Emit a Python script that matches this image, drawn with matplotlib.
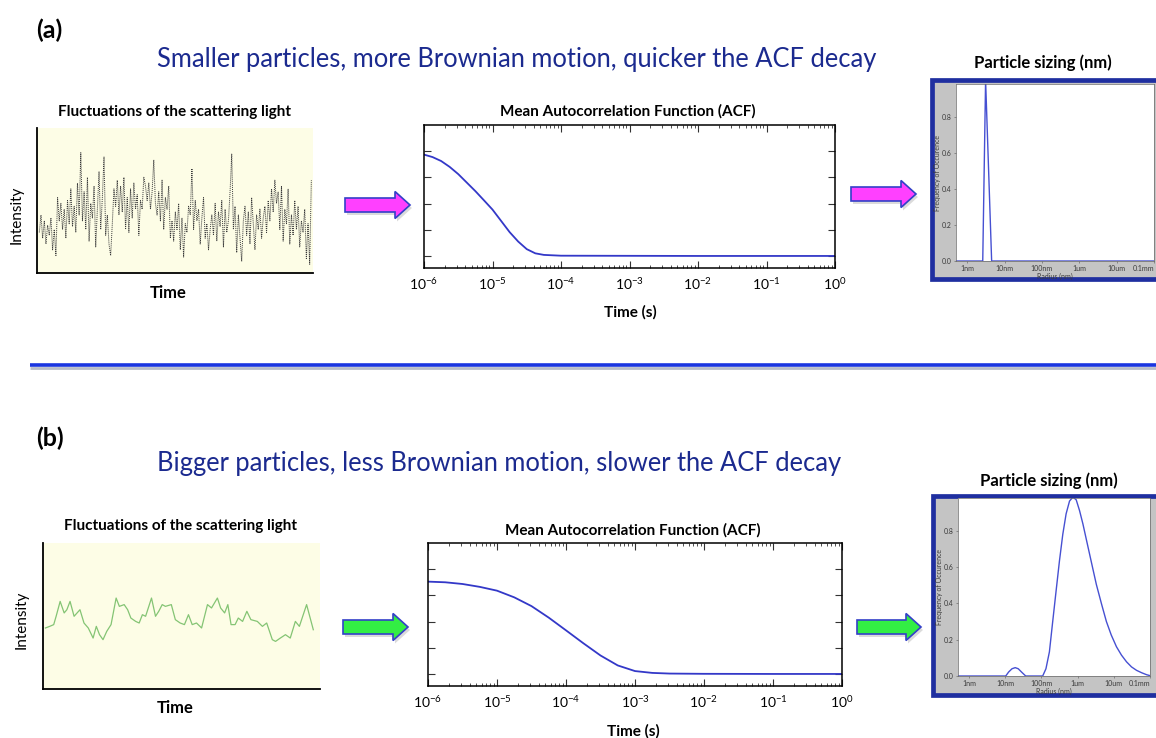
import numpy as np
import matplotlib.pyplot as plt
from matplotlib.patches import FancyArrow, Rectangle
from matplotlib.ticker import LogLocator, NullFormatter

plt.rcParams['font.family'] = ['Lato', 'DejaVu Sans']
plt.rcParams['mathtext.fontset'] = 'custom'
plt.rcParams['mathtext.rm'] = 'Lato'
plt.rcParams['mathtext.it'] = 'Lato:italic'
plt.rcParams['mathtext.bf'] = 'Lato:bold'

# --- data ---
# (a) fast fluctuating intensity, small particles
noise_a = [
    0.28, 0.40, 0.24, 0.36, 0.20, 0.33, 0.26, 0.38, 0.16, 0.30,
    0.12, 0.52, 0.36, 0.48, 0.30, 0.44, 0.24, 0.50, 0.34, 0.58,
    0.32, 0.46, 0.28, 0.62, 0.40, 0.83, 0.36, 0.56, 0.30, 0.66,
    0.22, 0.48, 0.38, 0.60, 0.18, 0.44, 0.70, 0.30, 0.52, 0.80,
    0.26, 0.40, 0.20, 0.12, 0.34, 0.58, 0.46, 0.64, 0.40, 0.60,
    0.42, 0.66, 0.30, 0.52, 0.28, 0.58, 0.38, 0.62, 0.44, 0.54,
    0.26, 0.50, 0.44, 0.66, 0.60, 0.50, 0.62, 0.44, 0.56, 0.78,
    0.48, 0.40, 0.56, 0.36, 0.64, 0.30, 0.52, 0.44, 0.60, 0.24,
    0.36, 0.22, 0.42, 0.30, 0.48, 0.16, 0.38, 0.11, 0.34, 0.28,
    0.46, 0.40, 0.72, 0.30, 0.50, 0.36, 0.44, 0.20, 0.38, 0.52,
    0.24, 0.34, 0.16, 0.30, 0.40, 0.26, 0.48, 0.22, 0.42, 0.32,
    0.50, 0.18, 0.44, 0.28, 0.36, 0.56, 0.82, 0.30, 0.46, 0.14,
    0.40, 0.24, 0.08, 0.36, 0.46, 0.26, 0.42, 0.20, 0.52, 0.34,
    0.16, 0.40, 0.30, 0.44, 0.24, 0.38, 0.46, 0.28, 0.50, 0.36,
    0.58, 0.42, 0.64, 0.48, 0.56, 0.30, 0.60, 0.22, 0.44, 0.34,
    0.58, 0.20, 0.40, 0.26, 0.50, 0.30, 0.46, 0.18, 0.36, 0.28,
    0.44, 0.10, 0.34, 0.06, 0.64,
]

# (b) slow fluctuating intensity, big particles
green_t = [0, 1.6, 3.1, 4.0, 5.5, 7.0, 8.0, 9.2, 10.7, 12.9, 14.4, 16.0, 17.8,
           19.0, 20.2, 21.5, 22.9, 24.5, 26.4, 27.6, 29.4, 30.7, 31.9, 33.7,
           35.0, 36.2, 37.4, 39.6, 41.1, 42.3, 43.6, 44.8, 47.0, 48.5, 50.3,
           51.9, 53.4, 54.8, 56.4, 58.3, 60.5, 62.0, 64.2, 65.4, 66.9, 68.1,
           69.3, 70.8, 72.0, 73.6, 75.2, 76.7, 79.1, 81.0, 82.6, 84.7, 85.9,
           87.7, 89.6, 91.4, 93.3, 94.8, 97.5, 100]
green_v = [0.418, 0.429, 0.441, 0.498, 0.600, 0.521, 0.543, 0.600, 0.498, 0.543,
           0.452, 0.418, 0.349, 0.429, 0.372, 0.338, 0.395, 0.441, 0.623, 0.566,
           0.578, 0.543, 0.486, 0.463, 0.452, 0.509, 0.498, 0.623, 0.498, 0.532,
           0.578, 0.566, 0.578, 0.475, 0.452, 0.441, 0.509, 0.441, 0.452, 0.418,
           0.578, 0.555, 0.623, 0.555, 0.521, 0.578, 0.441, 0.441, 0.486, 0.463,
           0.532, 0.475, 0.463, 0.429, 0.452, 0.338, 0.326, 0.349, 0.372, 0.349,
           0.463, 0.429, 0.578, 0.406]

# autocorrelation functions (log10 of time in s, value)
acf_a_logt = [-6.0, -5.875, -5.75, -5.625, -5.5, -5.375, -5.25, -5.125, -5.0,
              -4.875, -4.75, -4.625, -4.5, -4.375, -4.25, -4.0, -3.0, -2.0, 0.0]
acf_a_val = [0.774, 0.755, 0.725, 0.68, 0.625, 0.56, 0.495, 0.425, 0.354,
             0.268, 0.182, 0.110, 0.052, 0.020, 0.008, 0.002, 0.001, 0.0, 0.0]
acf_b_logt = [-6.0, -5.75, -5.5, -5.25, -5.0, -4.75, -4.5, -4.25, -4.0,
              -3.75, -3.5, -3.25, -3.0, -2.75, -2.5, -2.0, -1.0, 0.0]
acf_b_val = [0.705, 0.700, 0.687, 0.665, 0.636, 0.585, 0.518, 0.43, 0.333,
             0.235, 0.141, 0.065, 0.022, 0.008, 0.003, 0.001, 0.0, 0.0]

# particle size distributions (radius in nm, frequency)
size_a_r = [0.5, 2.6, 3.1, 4.5, 1e5]
size_a_f = [0.0, 0.0, 1.0, 0.0, 0.0]
size_b_r = [0.5, 10.4, 12.5, 15.5, 19, 23, 29, 37, 109, 134, 167, 206, 255, 316,
            391, 483, 600, 744, 918, 1137, 1406, 1737, 2154, 2665, 3302, 4640,
            6250, 8500, 11860, 16300, 22490, 30900, 42660, 58700, 80700, 1e5]
size_b_f = [0.0, 0.0, 0.022, 0.040, 0.046, 0.040, 0.020, 0.0, 0.0, 0.04, 0.133,
            0.30, 0.467, 0.633, 0.78, 0.893, 0.963, 0.985, 0.97, 0.91, 0.837,
            0.754, 0.67, 0.587, 0.504, 0.393, 0.30, 0.226, 0.161, 0.115, 0.078,
            0.05, 0.031, 0.018, 0.007, 0.002]

size_ticks = [1, 10, 100, 1e3, 1e4, 1e5]
size_labels = ['1nm', '10nm', '100nm', '1um', '10um', '0.1mm']

W, H = 1156, 738
fig = plt.figure(figsize=(W / 100, H / 100), dpi=100)


def box(l, t, r, b):
    return [l / W, 1 - b / H, (r - l) / W, (b - t) / H]


# overlay in pixel coordinates for texts and decorations
ov = fig.add_axes([0, 0, 1, 1], zorder=-1)
ov.set_xlim(0, W)
ov.set_ylim(H, 0)
ov.axis('off')

navy = '#1b2a8f'
ov.text(36, 30, '(a)', fontsize=18, fontweight='bold', va='center')
ov.text(157, 60, 'Smaller particles, more Brownian motion, quicker the ACF decay',
        fontsize=18.4, color=navy, va='center')
ov.text(36, 438, '(b)', fontsize=18, fontweight='bold', va='center')
ov.text(157, 463, 'Bigger particles, less Brownian motion, slower the ACF decay',
        fontsize=18.4, color=navy, va='center')

# separator line
ov.plot([30, W], [367.5, 367.5], color='#b8bcc8', lw=2.0, solid_capstyle='butt')
ov.plot([30, W], [365, 365], color='#1a35e0', lw=2.6, solid_capstyle='butt')


def fluct(rect, x, y, color, ls, lw, xlim, tx, ty, lx, ly, bx, by):
    ax = fig.add_axes(box(*rect))
    ax.set_facecolor('#fdfde6')
    ax.plot(x, y, color=color, ls=ls, lw=lw)
    ax.set_xlim(*xlim)
    ax.set_ylim(0, 1)
    ax.set_xticks([])
    ax.set_yticks([])
    for s in ['top', 'right']:
        ax.spines[s].set_visible(False)
    for s in ['left', 'bottom']:
        ax.spines[s].set_linewidth(1.3)
    ov.text(tx, ty, 'Fluctuations of the scattering light', fontsize=11,
            fontweight='bold', ha='center', va='center')
    ov.text(lx, ly, 'Intensity', fontsize=11, rotation=90, ha='center', va='center')
    ov.text(bx, by, 'Time', fontsize=12, fontweight='bold', ha='center', va='center')


fluct((37, 128, 313, 273), np.arange(len(noise_a)), noise_a, '#3a3a3a',
      (0, (1, 1)), 0.7, (-1.4, 165), 175, 112, 17, 215, 168, 293)
fluct((43, 543, 320, 689), green_t, green_v, '#84c474', '-', 0.9,
      (-0.9, 102.5), 180, 526, 22, 620, 175, 708)


def acf(rect, logt, val, tx, ty, xx, xy):
    ax = fig.add_axes(box(*rect))
    ax.plot(10 ** np.array(logt), val, color='#3338c8', lw=1.3)
    ax.set_xscale('log')
    ax.set_xlim(1e-6, 1)
    ax.set_ylim(-0.092, 1.0)
    ax.set_yticks([0, 0.2, 0.4, 0.6, 0.8])
    ax.set_yticklabels([])
    ax.xaxis.set_major_locator(LogLocator(base=10, numticks=10))
    ax.xaxis.set_minor_locator(LogLocator(base=10, subs=np.arange(2, 10), numticks=20))
    ax.xaxis.set_minor_formatter(NullFormatter())
    ax.tick_params(which='both', direction='in', top=True, right=True,
                   labelsize=10, pad=6, color='#333333')
    ax.tick_params(which='major', length=5, width=0.8)
    ax.tick_params(which='minor', length=2.5, width=0.6)
    for s in ax.spines.values():
        s.set_linewidth(1.1)
    ov.text(tx, ty, 'Mean Autocorrelation Function (ACF)', fontsize=11,
            fontweight='bold', ha='center', va='center')
    ov.text(xx, xy, 'Time (s)', fontsize=11, fontweight='bold', ha='center', va='center')


acf((424, 125, 835, 268), acf_a_logt, acf_a_val, 628, 111, 630, 312)
acf((428, 543, 842, 686), acf_b_logt, acf_b_val, 633, 530, 633, 731)


def sizing(frame, rect, r, f, tx, ty):
    l, t, rr, b = frame
    ov.add_patch(Rectangle((l, t), rr - l, b - t, facecolor='#c4c4c4',
                           edgecolor='#1f2fa0', lw=3.4))
    ax = fig.add_axes(box(*rect))
    ax.plot(r, f, color='#4650d2', lw=1.0)
    ax.set_xscale('log')
    ax.set_xlim(0.5, 1e5)
    ax.set_ylim(0, 0.98)
    ax.set_xticks(size_ticks)
    ax.set_xticklabels(size_labels)
    ax.get_xticklabels()[-1].set_ha('right')
    ax.xaxis.set_minor_locator(plt.NullLocator())
    ax.set_yticks([0, 0.2, 0.4, 0.6, 0.8])
    ax.set_yticklabels(['0.0', '0.2', '0.4', '0.6', '0.8'])
    ax.tick_params(labelsize=5, labelcolor='#3a3a3a', length=1.5, width=0.4,
                   pad=1.5, color='#555555')
    ax.set_xlabel('Radius (nm)', fontsize=5, color='#3a3a3a', labelpad=0.3)
    ax.set_ylabel('Frequency of Occurence', fontsize=5, color='#3a3a3a', labelpad=1)
    for s in ax.spines.values():
        s.set_linewidth(0.5)
        s.set_color('#666666')
    ov.text(tx, ty, 'Particle sizing (nm)', fontsize=12, fontweight='bold',
            ha='center', va='center')


sizing((932, 80, 1162, 279), (956, 84, 1154, 261), size_a_r, size_a_f, 1043, 63)
sizing((933, 496, 1162, 695), (958, 498, 1150, 676), size_b_r, size_b_f, 1049, 481)


def arrow(x0, x1, y, fc):
    ov.add_patch(FancyArrow(x0 + 2, y + 3, x1 - x0, 0, width=14, head_width=27,
                            head_length=15, length_includes_head=True,
                            fc='#9a9a9a', ec='none', alpha=0.35))
    ov.add_patch(FancyArrow(x0, y, x1 - x0, 0, width=14, head_width=27,
                            head_length=15, length_includes_head=True,
                            fc=fc, ec='#3340c8', lw=1.2))


arrow(345, 410, 205, '#ff40ff')
arrow(851, 916, 194, '#ff40ff')
arrow(343, 408, 627, '#33ee44')
arrow(857, 921, 627, '#33ee44')

fig.savefig('out.png', dpi=100)
